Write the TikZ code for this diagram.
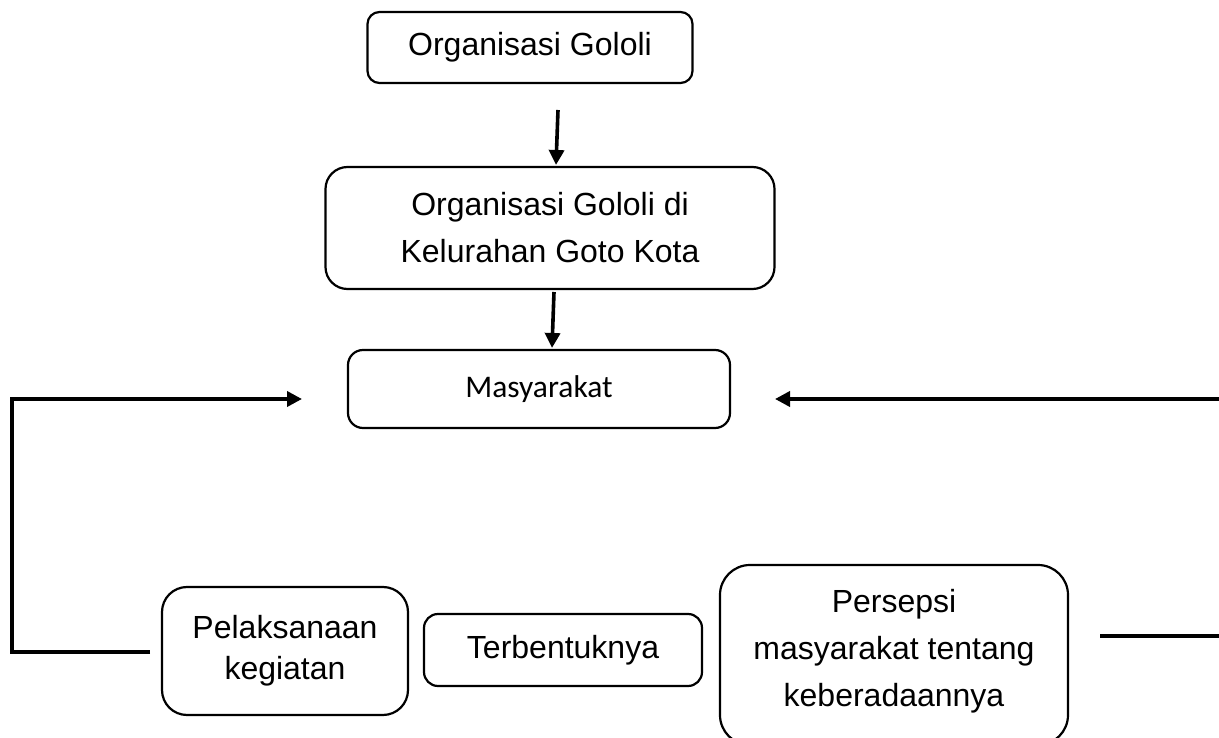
\documentclass[tikz,border=0pt]{standalone}
\usepackage{fontspec}
\setmainfont{Liberation Sans}
\newfontfamily\carlito{Carlito}
\usetikzlibrary{arrows.meta}
\begin{document}
\begin{tikzpicture}[x=1pt,y=-1pt,
  box/.style={draw=black,line width=2.2pt,align=center,inner sep=0pt,
    font=\fontsize{32}{47}\selectfont},
  conn/.style={line width=3.6pt,line join=miter},
  arr/.style={conn,-{Triangle[length=15pt,width=15pt]}}]
\useasboundingbox (0,0) rectangle (1219,738);
\node[box,rounded corners=12pt,minimum width=325pt,minimum height=71pt] (top) at (530,47.5) {Organisasi Gololi};
\node[box,rounded corners=22pt,minimum width=449pt,minimum height=122pt] (mid) at (550,228) {Organisasi Gololi di\\Kelurahan Goto Kota};
\node[box,rounded corners=15pt,minimum width=382pt,minimum height=78pt,font=\carlito\fontsize{31.5}{36}\selectfont] (mas) at (539,389) {Masyarakat};
\node[box,rounded corners=25pt,minimum width=246pt,minimum height=128pt,font=\fontsize{32}{41}\selectfont] (pel) at (285,651) {Pelaksanaan\\kegiatan};
\node[box,rounded corners=14pt,minimum width=278pt,minimum height=72pt] (ter) at (563,650) {Terbentuknya};
\node[box,rounded corners=30pt,minimum width=348pt,minimum height=180pt,text depth=14pt] (per) at (894,655) {Persepsi\\masyarakat tentang\\keberadaannya};
% connectors
\coordinate (a1s) at (558,110);
\coordinate (a1e) at (556,165);
\coordinate (a2s) at (554,292);
\coordinate (a2e) at (552,348);
\coordinate (ls) at (150,652);
\coordinate (lc) at (12,652);
\coordinate (le) at (302,399);
\coordinate (rs) at (1219,399);
\coordinate (re) at (775,399);
\coordinate (bs) at (1100,636);
\coordinate (be) at (1219,636);
\draw[arr] (a1s) -- (a1e);
\draw[arr] (a2s) -- (a2e);
\draw[arr] (ls) -- (lc) |- (le);
\draw[arr] (rs) -- (re);
\draw[conn] (bs) -- (be);
\end{tikzpicture}
\end{document}
